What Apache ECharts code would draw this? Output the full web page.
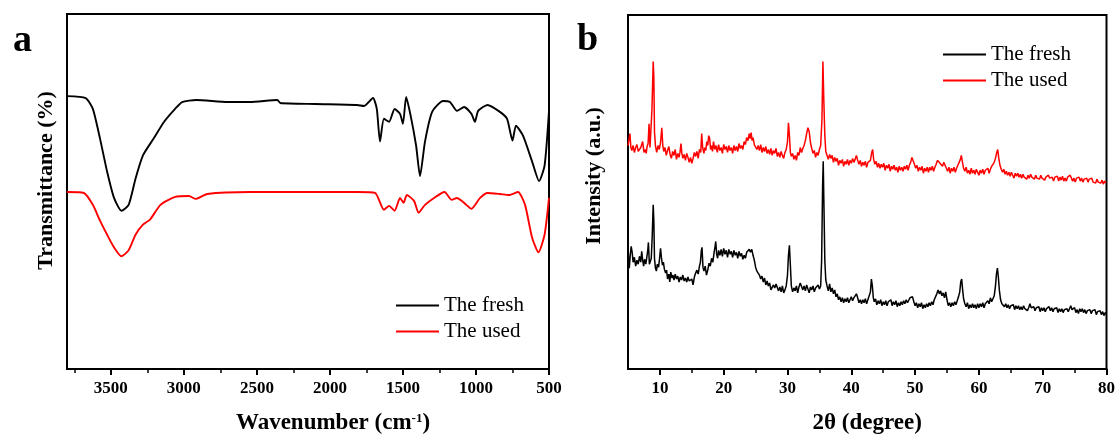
<!DOCTYPE html>
<html>
<head>
<meta charset="utf-8">
<script src="https://cdn.jsdelivr.net/npm/echarts@6/dist/echarts.min.js"></script>
<style>
  html, body { margin: 0; padding: 0; background: #fff; }
  #main { width: 1118px; height: 440px; }
</style>
</head>
<body>
<div id="main"></div>
<script>
// FTIR (panel a): [wavenumber, transmittance a.u.]
const ftirFresh = [[3800,276],[3672,274],[3623,263],[3574,233],[3526,200],[3478,173],[3427,160],[3378,166],[3330,193],[3280,216],[3207,233],[3135,250],[3060,263],[3012,270],[2915,272],[2700,270],[2547,270],[2360,272],[2340,269],[2100,268],[1814,267],[1766,266],[1705,274],[1679,263],[1657,230],[1630,253],[1595,250],[1557,263],[1520,258],[1500,248],[1478,275],[1447,256],[1410,226],[1383,195],[1349,230],[1300,260],[1226,271],[1178,270],[1130,261],[1081,265],[1031,258],[1007,250],[985,261],[921,267],[836,260],[787,253],[750,231],[726,246],[678,236],[616,210],[568,190],[530,206],[500,261]]
const ftirUsed = [[3800,179],[3684,178],[3623,166],[3574,150],[3526,136],[3478,123],[3427,114],[3378,120],[3330,136],[3280,146],[3232,151],[3160,166],[3060,174],[2965,175],[2919,172],[2840,177],[2547,179],[1814,179],[1691,178],[1630,161],[1595,165],[1557,160],[1520,173],[1496,168],[1473,176],[1424,170],[1393,158],[1349,166],[1287,173],[1215,179],[1166,171],[1130,173],[1081,168],[1031,162],[972,173],[921,178],[836,177],[774,176],[712,179],[664,166],[616,133],[572,118],[530,136],[500,173]]

// XRD (panel b): [2theta, intensity a.u.]
const xrdFresh = [[5.0,125],[5.1,110],[5.2,102],[5.35,115],[5.5,124],[5.65,118],[5.8,108],[6.0,113],[6.2,104],[6.4,110],[6.6,106],[6.8,114],[7.0,108],[7.15,119],[7.3,110],[7.45,104],[7.6,111],[7.8,106],[7.95,113],[8.1,120],[8.2,128],[8.35,106],[8.5,104],[8.65,112],[8.8,135],[8.95,166],[9.05,150],[9.15,112],[9.3,102],[9.45,99],[9.6,106],[9.8,103],[9.95,112],[10.1,122],[10.25,112],[10.4,105],[10.55,108],[10.7,101],[10.9,97],[11.05,100],[11.2,91],[11.4,96],[11.55,88],[11.7,98],[11.9,92],[12.05,95],[12.2,90],[12.4,96],[12.6,91],[12.8,94],[13.0,88],[13.2,93],[13.4,90],[13.6,95],[13.8,89],[14.0,92],[14.2,88],[14.4,93],[14.6,89],[14.8,87],[15.0,91],[15.2,85],[15.4,93],[15.6,97],[15.8,100],[16.0,96],[16.2,104],[16.35,108],[16.5,120],[16.6,123],[16.75,103],[16.9,99],[17.1,104],[17.3,95],[17.5,100],[17.7,107],[17.9,104],[18.1,112],[18.3,108],[18.5,118],[18.65,124],[18.75,129],[18.9,116],[19.05,112],[19.2,120],[19.4,115],[19.6,121],[19.8,114],[20.0,122],[20.2,116],[20.4,120],[20.6,113],[20.8,121],[21.0,116],[21.2,119],[21.4,113],[21.6,120],[21.8,115],[22.0,118],[22.2,112],[22.4,119],[22.6,114],[22.8,117],[23.0,111],[23.2,115],[23.4,112],[23.6,118],[23.8,116],[24.0,121],[24.2,118],[24.4,121],[24.6,115],[24.8,110],[25.0,103],[25.2,99],[25.4,101],[25.6,95],[25.8,91],[26.0,94],[26.2,88],[26.4,92],[26.6,85],[26.8,89],[27.0,84],[27.2,87],[27.4,80],[27.6,78],[27.8,85],[28.0,82],[28.2,86],[28.4,84],[28.6,79],[28.8,83],[29.0,78],[29.2,84],[29.4,77],[29.6,80],[29.8,84],[30.0,95],[30.15,115],[30.3,125],[30.45,105],[30.6,84],[30.8,78],[31.0,82],[31.2,79],[31.4,84],[31.6,77],[31.8,83],[32.0,87],[32.2,85],[32.4,80],[32.6,84],[32.8,79],[33.0,85],[33.2,81],[33.4,77],[33.6,83],[33.8,80],[34.0,84],[34.2,78],[34.4,82],[34.6,80],[34.8,85],[35.0,81],[35.2,84],[35.35,110],[35.5,185],[35.6,210],[35.7,170],[35.85,110],[36.0,90],[36.2,84],[36.4,79],[36.6,86],[36.8,78],[37.0,82],[37.2,76],[37.4,80],[37.6,73],[37.8,76],[38.0,70],[38.2,73],[38.4,68],[38.6,72],[38.8,67],[39.0,71],[39.2,68],[39.4,72],[39.6,67],[39.8,70],[40.0,73],[40.2,69],[40.4,72],[40.6,70],[40.8,76],[41.0,72],[41.2,67],[41.4,70],[41.6,66],[41.8,70],[42.0,67],[42.2,71],[42.4,66],[42.6,70],[42.8,72],[43.0,78],[43.15,91],[43.3,84],[43.45,72],[43.6,68],[43.8,71],[44.0,65],[44.2,69],[44.4,66],[44.6,70],[44.8,64],[45.0,68],[45.2,65],[45.4,69],[45.6,64],[45.8,68],[46.0,66],[46.2,70],[46.4,64],[46.6,68],[46.8,65],[47.0,69],[47.2,63],[47.4,67],[47.6,64],[47.8,68],[48.0,65],[48.2,69],[48.4,66],[48.6,70],[48.8,67],[49.0,69],[49.2,72],[49.4,70],[49.6,73],[49.8,68],[50.0,64],[50.2,67],[50.4,62],[50.6,66],[50.8,63],[51.0,67],[51.2,61],[51.4,65],[51.6,62],[51.8,66],[52.0,63],[52.2,67],[52.4,64],[52.6,68],[52.8,65],[53.0,70],[53.2,68],[53.4,76],[53.6,80],[53.8,76],[54.0,79],[54.2,74],[54.4,77],[54.6,72],[54.8,78],[55.0,70],[55.2,64],[55.4,67],[55.6,63],[55.8,67],[56.0,64],[56.2,68],[56.4,65],[56.6,69],[56.8,73],[57.0,78],[57.15,88],[57.3,91],[57.45,80],[57.6,71],[57.8,66],[58.0,63],[58.2,67],[58.4,61],[58.6,65],[58.8,62],[59.0,66],[59.2,62],[59.4,65],[59.6,61],[59.8,66],[60.0,62],[60.2,66],[60.4,63],[60.6,67],[60.8,62],[61.0,66],[61.2,64],[61.4,69],[61.6,66],[61.8,72],[62.0,68],[62.2,70],[62.4,74],[62.6,84],[62.75,96],[62.9,102],[63.05,93],[63.2,80],[63.4,70],[63.6,66],[63.8,68],[64.0,63],[64.2,66],[64.4,62],[64.6,65],[64.8,61],[65.0,64],[65.2,62],[65.4,65],[65.6,60],[65.8,64],[66.0,61],[66.2,64],[66.4,60],[66.6,63],[66.8,60],[67.0,64],[67.2,61],[67.4,63],[67.6,59],[67.8,62],[68.0,66],[68.2,62],[68.4,60],[68.6,63],[68.8,59],[69.0,62],[69.2,60],[69.4,63],[69.6,58],[69.8,62],[70.0,59],[70.2,62],[70.4,58],[70.6,61],[70.8,59],[71.0,63],[71.2,59],[71.4,62],[71.6,58],[71.8,61],[72.0,59],[72.2,62],[72.4,57],[72.6,61],[72.8,58],[73.0,61],[73.2,57],[73.4,60],[73.6,58],[73.8,61],[74.0,58],[74.2,61],[74.4,64],[74.6,60],[74.8,58],[75.0,62],[75.2,57],[75.4,60],[75.6,56],[75.8,61],[76.0,58],[76.2,61],[76.4,57],[76.6,60],[76.8,56],[77.0,59],[77.2,57],[77.4,60],[77.6,56],[77.8,59],[78.0,57],[78.2,60],[78.4,55],[78.6,58],[78.8,56],[79.0,59],[79.2,55],[79.4,58],[79.6,54],[79.8,57],[80.0,55]]
const xrdUsed = [[5.0,226],[5.15,232],[5.3,238],[5.45,224],[5.6,221],[5.8,226],[6.0,219],[6.2,224],[6.4,227],[6.6,220],[6.8,218],[7.0,224],[7.15,222],[7.3,230],[7.5,219],[7.7,222],[7.85,218],[8.0,225],[8.15,228],[8.3,248],[8.45,224],[8.6,222],[8.75,262],[8.85,286],[8.95,311],[9.05,296],[9.15,240],[9.3,226],[9.5,219],[9.7,226],[9.9,222],[10.1,229],[10.3,244],[10.45,226],[10.6,220],[10.8,224],[11.0,216],[11.2,221],[11.4,225],[11.6,217],[11.8,213],[12.0,220],[12.2,216],[12.4,222],[12.6,212],[12.8,218],[13.0,214],[13.15,219],[13.3,228],[13.45,218],[13.6,213],[13.8,217],[14.0,211],[14.2,218],[14.4,214],[14.6,209],[14.8,214],[15.0,208],[15.2,213],[15.4,219],[15.6,215],[15.8,220],[16.0,213],[16.2,222],[16.4,219],[16.55,238],[16.7,224],[16.9,218],[17.05,224],[17.2,221],[17.35,230],[17.5,226],[17.65,236],[17.8,233],[17.95,222],[18.1,226],[18.25,220],[18.4,230],[18.6,222],[18.8,226],[19.0,219],[19.2,227],[19.4,221],[19.6,224],[19.8,218],[20.0,227],[20.2,222],[20.4,225],[20.6,219],[20.8,226],[21.0,221],[21.2,224],[21.4,218],[21.6,226],[21.8,221],[22.0,225],[22.2,220],[22.4,228],[22.6,223],[22.8,226],[23.0,222],[23.2,230],[23.4,227],[23.6,234],[23.8,231],[24.0,238],[24.15,233],[24.3,239],[24.45,231],[24.6,234],[24.8,227],[25.0,229],[25.2,222],[25.4,226],[25.6,221],[25.8,227],[26.0,219],[26.2,224],[26.4,220],[26.6,225],[26.8,218],[27.0,222],[27.2,217],[27.4,223],[27.6,216],[27.8,221],[28.0,218],[28.2,223],[28.4,215],[28.6,219],[28.8,214],[29.0,220],[29.2,216],[29.4,213],[29.6,219],[29.8,222],[30.0,230],[30.15,249],[30.3,236],[30.45,219],[30.6,215],[30.8,218],[31.0,212],[31.2,216],[31.4,211],[31.6,219],[31.8,216],[32.0,224],[32.2,219],[32.4,223],[32.6,226],[32.8,231],[33.0,238],[33.2,244],[33.4,240],[33.6,229],[33.8,223],[34.0,218],[34.2,221],[34.4,214],[34.6,219],[34.8,216],[35.0,222],[35.2,226],[35.4,252],[35.55,311],[35.7,270],[35.85,236],[36.0,220],[36.2,216],[36.4,212],[36.6,217],[36.8,213],[37.0,216],[37.2,209],[37.4,214],[37.6,210],[37.8,213],[38.0,206],[38.2,211],[38.4,208],[38.6,212],[38.8,205],[39.0,210],[39.2,207],[39.4,212],[39.6,206],[39.8,211],[40.0,208],[40.2,213],[40.4,209],[40.6,212],[40.8,216],[41.0,211],[41.2,207],[41.4,211],[41.6,205],[41.8,209],[42.0,206],[42.2,210],[42.4,204],[42.6,209],[42.8,207],[43.0,211],[43.2,219],[43.35,222],[43.5,212],[43.7,207],[43.9,210],[44.1,204],[44.3,208],[44.5,203],[44.7,207],[44.9,204],[45.1,208],[45.3,201],[45.5,206],[45.7,203],[45.9,207],[46.1,200],[46.3,205],[46.5,202],[46.7,206],[46.9,201],[47.1,204],[47.3,199],[47.5,205],[47.7,201],[47.9,204],[48.1,200],[48.3,205],[48.5,202],[48.7,206],[48.9,201],[49.1,206],[49.3,209],[49.5,214],[49.7,216],[49.9,207],[50.1,203],[50.3,206],[50.5,200],[50.7,204],[50.9,201],[51.1,205],[51.3,198],[51.5,203],[51.7,200],[51.9,204],[52.1,199],[52.3,204],[52.5,201],[52.7,205],[52.9,200],[53.1,204],[53.3,207],[53.5,211],[53.7,212],[53.9,208],[54.1,210],[54.3,205],[54.5,209],[54.7,210],[54.9,203],[55.1,200],[55.3,204],[55.5,198],[55.7,203],[55.9,200],[56.1,204],[56.3,199],[56.5,203],[56.7,206],[56.9,209],[57.1,212],[57.25,216],[57.4,210],[57.6,203],[57.8,200],[58.0,204],[58.2,198],[58.4,201],[58.6,197],[58.8,203],[59.0,198],[59.2,201],[59.4,197],[59.6,202],[59.8,199],[60.0,196],[60.2,201],[60.4,198],[60.6,202],[60.8,197],[61.0,201],[61.2,199],[61.4,203],[61.6,198],[61.8,202],[62.0,205],[62.2,203],[62.4,209],[62.6,213],[62.8,219],[62.95,222],[63.1,214],[63.3,206],[63.5,202],[63.7,199],[63.9,202],[64.1,197],[64.3,200],[64.5,196],[64.7,199],[64.9,195],[65.1,199],[65.3,196],[65.5,193],[65.7,198],[65.9,195],[66.1,198],[66.3,194],[66.5,197],[66.7,193],[66.9,197],[67.1,194],[67.3,196],[67.5,192],[67.7,196],[67.9,193],[68.1,197],[68.3,194],[68.5,196],[68.7,192],[68.9,196],[69.1,193],[69.3,195],[69.5,192],[69.7,196],[69.9,193],[70.1,195],[70.3,191],[70.5,194],[70.7,192],[70.9,196],[71.1,193],[71.3,191],[71.5,194],[71.7,190],[71.9,194],[72.1,192],[72.3,195],[72.5,190],[72.7,194],[72.9,191],[73.1,195],[73.3,190],[73.5,193],[73.7,190],[73.9,194],[74.1,192],[74.3,196],[74.5,193],[74.7,190],[74.9,193],[75.1,189],[75.3,193],[75.5,191],[75.7,194],[75.9,190],[76.1,193],[76.3,189],[76.5,192],[76.7,190],[76.9,193],[77.1,189],[77.3,192],[77.5,190],[77.7,193],[77.9,189],[78.1,191],[78.3,188],[78.5,192],[78.7,189],[78.9,191],[79.1,188],[79.3,191],[79.5,187],[79.7,190],[79.9,188],[80.0,189]]

// tick values
const ftirMajor = [500, 1000, 1500, 2000, 2500, 3000, 3500]
const ftirMinor = [750, 1250, 1750, 2250, 2750, 3250, 3750]
const xrdMajor = [10, 20, 30, 40, 50, 60, 70, 80]
const xrdMinor = [15, 25, 35, 45, 55, 65, 75]

const seriesNames = ['The fresh', 'The used']
const black = '#000000'
const red = '#ff0000'
const serif = 'Liberation Serif'

let chart = echarts.init(document.getElementById('main'), null, { renderer: 'canvas' })

function majorAxis(grid, min, max, ticks, name, nameStyle) {
  return {
    type: 'value', gridIndex: grid, min: min, max: max, inverse: grid === 0,
    position: 'bottom',
    name: name, nameLocation: 'middle', nameGap: 43,
    nameTextStyle: nameStyle,
    axisLine: { show: true, lineStyle: { color: '#000', width: 2 } },
    axisTick: { show: true, inside: false, length: 6, customValues: ticks, lineStyle: { color: '#000', width: 2 } },
    axisLabel: {
      show: true, margin: 11, customValues: ticks, color: '#000',
      fontFamily: serif, fontWeight: 'bold', fontSize: 17,
      formatter: v => String(v)
    },
    splitLine: { show: false }
  }
}

function minorAxis(grid, min, max, ticks) {
  return {
    type: 'value', gridIndex: grid, min: min, max: max, inverse: grid === 0,
    position: 'bottom',
    axisLine: { show: false },
    axisTick: { show: true, inside: false, length: 4, customValues: ticks, lineStyle: { color: '#000', width: 1.5 } },
    axisLabel: { show: false },
    splitLine: { show: false }
  }
}

function yAxis(grid, max, name, gap, shift) {
  return {
    type: 'value', gridIndex: grid, min: 0, max: max,
    name: name, nameLocation: 'middle', nameGap: gap, nameRotate: 90,
    nameTextStyle: { color: '#000', fontFamily: serif, fontWeight: 'bold', fontSize: 22, padding: [0, 0, 0, shift] },
    axisLine: { show: false }, axisTick: { show: false }, axisLabel: { show: false }, splitLine: { show: false }
  }
}

function legend(left, top) {
  return {
    orient: 'vertical', left: left, top: top, padding: 0,
    icon: 'rect', itemWidth: 43, itemHeight: 2, itemGap: 5,
    data: seriesNames,
    textStyle: { color: '#000', fontFamily: serif, fontSize: 21, lineHeight: 21 }
  }
}

function line(name, xIdx, yIdx, data, color, width, smooth) {
  return {
    name: name, type: 'line', xAxisIndex: xIdx, yAxisIndex: yIdx,
    data: data, symbol: 'none', smooth: smooth,
    lineStyle: { color: color, width: width }, itemStyle: { color: color }
  }
}

let option = {
  animation: false,
  backgroundColor: '#fff',
  title: [
    { text: 'a', left: 13, top: 22, padding: 0, textStyle: { fontFamily: serif, fontWeight: 'bold', fontSize: 38, color: '#000' } },
    { text: 'b', left: 577, top: 21, padding: 0, textStyle: { fontFamily: serif, fontWeight: 'bold', fontSize: 38, color: '#000' } }
  ],
  grid: [
    { left: 67, top: 14, width: 482, height: 359, show: true, borderColor: '#000', borderWidth: 2, backgroundColor: 'transparent' },
    { left: 628, top: 15, width: 480, height: 358, show: true, borderColor: '#000', borderWidth: 2, backgroundColor: 'transparent' }
  ],
  xAxis: [
    majorAxis(0, 500, 3800, ftirMajor, 'Wavenumber (cm{sup|-1})', {
      color: '#000', fontFamily: serif, fontWeight: 'bold', fontSize: 23, padding: [0, 0, 0, 50],
      rich: { sup: { fontFamily: serif, fontWeight: 'bold', fontSize: 13, verticalAlign: 'top', padding: [0, 0, 10, 0] } }
    }),
    majorAxis(1, 5, 80, xrdMajor, '2θ (degree)', { color: '#000', fontFamily: serif, fontWeight: 'bold', fontSize: 23 }),
    minorAxis(0, 500, 3800, ftirMinor),
    minorAxis(1, 5, 80, xrdMinor)
  ],
  yAxis: [
    yAxis(0, 359, 'Transmittance (%)', 10, 22),
    yAxis(1, 358, 'Intensity (a.u.)', 23, 32)
  ],
  legend: [legend(396, 295), legend(943, 44)],
  series: [
    line('The fresh', 0, 0, ftirFresh, black, 1.9, 0.2),
    line('The used', 0, 0, ftirUsed, red, 1.9, 0.2),
    line('The fresh', 1, 1, xrdFresh, black, 1.5, false),
    line('The used', 1, 1, xrdUsed, red, 1.5, false)
  ]
}

chart.setOption(option)
</script>
</body>
</html>
